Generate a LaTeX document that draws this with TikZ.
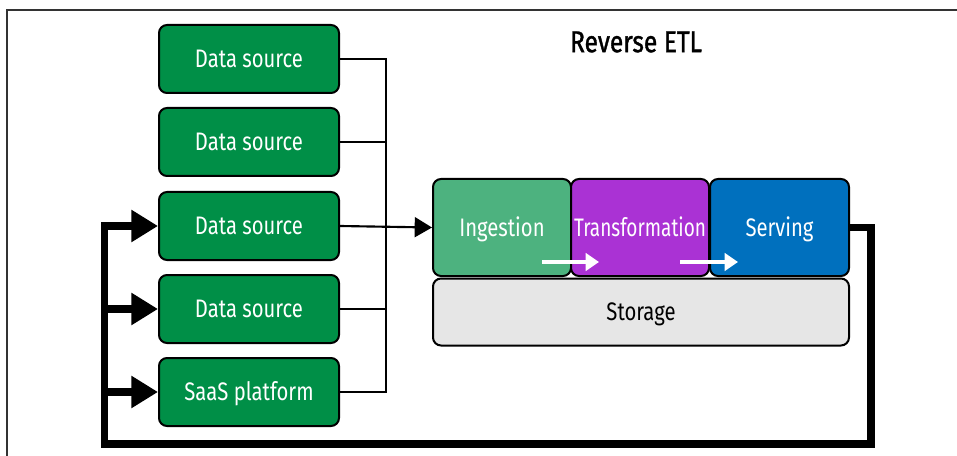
\documentclass[tikz,border=0pt]{standalone}
\usepackage{fontspec}
\setmainfont{Fira Sans}[FakeStretch=0.8]
\newfontfamily\titlefont{Fira Sans}[FakeStretch=0.82,FakeBold=1.2]
\usetikzlibrary{positioning,arrows.meta}
\definecolor{srcgreen}{HTML}{008F47}
\definecolor{ingestgreen}{HTML}{4DB27F}
\definecolor{transpurple}{HTML}{AA32D4}
\definecolor{serveblue}{HTML}{0070BE}
\definecolor{storegray}{HTML}{E6E6E6}
\definecolor{framegray}{HTML}{333333}

\begin{document}
\begin{tikzpicture}[x=.75pt,y=-.75pt,font=\fontsize{19}{22}\selectfont,
  src/.style={rounded corners=6pt,minimum width=135pt,minimum height=51pt,draw=black,line width=1.5pt,fill=srcgreen,text=white,inner sep=2pt,text height=13pt,text depth=0pt},
  stage/.style={rounded corners=6pt,minimum width=103.5pt,minimum height=72.75pt,draw=black,line width=1.5pt,text=white,inner sep=1pt,text height=13pt,text depth=0pt},
  wire/.style={line width=1.6pt},
  back/.style={line width=5.5pt,line join=miter},
  flow/.style={draw=white,line width=3pt,-{Triangle[length=10pt,width=13pt]}}]
\useasboundingbox (0,0) rectangle (957,456);
\draw[draw=framegray,line width=1.3pt] (7,456) -- (7,10) -- (957,10);
\node (title) at (636,42) {\titlefont\fontsize{22.5}{26}\selectfont Reverse ETL};
\node[src] (src1) at (249,59) {Data source};
\node[src] (src2) at (249,142) {Data source};
\node[src] (src3) at (249,226) {Data source};
\node[src] (src4) at (249,309) {Data source};
\node[src] (saas) at (249,392) {SaaS platform};
\node[stage,fill=ingestgreen] (ingest) at (502,227.5) {Ingestion};
\node[stage,fill=transpurple] (transform) at (640,227.5) {\addfontfeature{FakeStretch=0.75}Transformation};
\node[stage,fill=serveblue,minimum width=104.25pt] (serve) at (779.5,227.5) {Serving};
\node[stage,fill=storegray,text=black,minimum width=312pt,minimum height=50.25pt] (storage) at (641,312) {Storage};
\coordinate (flow1s) at (542,262);
\coordinate (flow1e) at (599,262);
\coordinate (flow2s) at (680,262);
\coordinate (flow2e) at (738,262);
\draw[flow] (flow1s) -- (flow1e);
\draw[flow] (flow2s) -- (flow2e);
% sources into the pipeline
\coordinate (bus) at (386,226);
\draw[wire] (src1.east) -| (bus) |- (saas.east);
\foreach \s in {src2,src4} \draw[wire] (\s.east) -- (\s.east -| bus);
\draw[wire,-{Triangle[length=13pt,width=15pt]}] (src3.east) -- (ingest.west);
% reverse path back to the sources
\coordinate (loopR) at (871,444);
\coordinate (loopL) at (104.5,444);
\draw[back,-{Triangle[length=20pt,width=23pt]}] (serve.east) -| (loopR) -- (loopL) |- (src3.west);
\foreach \s in {src4,saas} \draw[back,-{Triangle[length=20pt,width=23pt]}] (\s.west -| loopL) -- (\s.west);
\end{tikzpicture}
\end{document}
